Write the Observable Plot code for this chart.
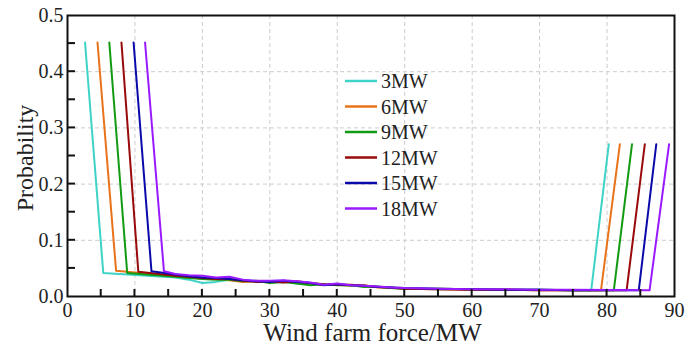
<!DOCTYPE html>
<html>
<head>
<meta charset="utf-8">
<script src="https://cdn.jsdelivr.net/npm/d3@7"></script>
<script src="https://cdn.jsdelivr.net/npm/@observablehq/plot@0.6"></script>
<style>
  html, body { margin: 0; padding: 0; background: #fff; }
  svg { display: block; }
  svg text { font-family: 'Liberation Serif', 'Times New Roman', serif !important; }
</style>
</head>
<body>
<div id="chart"></div>
<script>
// ---- data ----
const seriesNames = ["3MW", "6MW", "9MW", "12MW", "15MW", "18MW"];
const seriesColors = ["#3dd3c6", "#e8731a", "#129a12", "#990a0a", "#0a0aaa", "#9a1aff"];

// left drop: from top point down to bottom point
const topLeftX = [2.6, 4.45, 6.2, 8.0, 9.8, 11.5];
const topLeftY = [0.452, 0.452, 0.452, 0.452, 0.452, 0.452];
const bottomLeftX = [5.3, 7.2, 8.85, 10.5, 12.45, 14.3];
const bottomLeftY = [0.042, 0.046, 0.042, 0.044, 0.045, 0.045];

// middle (noisy low-probability region)
const midX = [16, 18, 20, 22, 24, 26, 28, 30, 32, 34, 36, 38, 40, 42, 44, 46, 48, 50, 55, 60, 65, 70, 75];
const mid3 = [0.034, 0.030, 0.024, 0.026, 0.030, 0.027, 0.026, 0.026, 0.028, 0.023, 0.024, 0.021, 0.022, 0.019, 0.019, 0.017, 0.016, 0.014, 0.013, 0.013, 0.012, 0.012, 0.011];
const mid6 = [0.036, 0.034, 0.032, 0.031, 0.029, 0.026, 0.027, 0.025, 0.027, 0.025, 0.023, 0.021, 0.021, 0.019, 0.020, 0.016, 0.015, 0.014, 0.013, 0.012, 0.012, 0.011, 0.011];
const mid9 = [0.035, 0.033, 0.031, 0.030, 0.030, 0.027, 0.028, 0.024, 0.026, 0.023, 0.020, 0.022, 0.020, 0.020, 0.017, 0.018, 0.015, 0.014, 0.014, 0.013, 0.012, 0.012, 0.011];
const mid12 = [0.037, 0.035, 0.033, 0.031, 0.031, 0.028, 0.026, 0.027, 0.025, 0.027, 0.024, 0.022, 0.021, 0.021, 0.019, 0.017, 0.016, 0.014, 0.013, 0.012, 0.012, 0.011, 0.011];
const mid15 = [0.039, 0.036, 0.034, 0.033, 0.031, 0.029, 0.027, 0.026, 0.028, 0.026, 0.024, 0.020, 0.022, 0.020, 0.019, 0.017, 0.016, 0.015, 0.014, 0.013, 0.012, 0.012, 0.011];
const mid18 = [0.040, 0.038, 0.037, 0.034, 0.035, 0.030, 0.028, 0.028, 0.029, 0.027, 0.025, 0.021, 0.023, 0.020, 0.019, 0.018, 0.016, 0.015, 0.014, 0.013, 0.013, 0.012, 0.012];
const midYs = [mid3, mid6, mid9, mid12, mid15, mid18];

// right rise: from bottom point up to top point
const bottomRightX = [77.65, 79.1, 81.0, 82.9, 84.7, 86.3];
const bottomRightY = [0.011, 0.011, 0.011, 0.011, 0.011, 0.011];
const topRightX = [80.26, 81.9, 83.7, 85.6, 87.3, 89.2];
const topRightY = [0.271, 0.271, 0.271, 0.271, 0.271, 0.271];

const xTicks = [0, 10, 20, 30, 40, 50, 60, 70, 80, 90];
const xMinorTicks = [5, 15, 25, 35, 45, 55, 65, 75, 85];
const yTicks = [0.0, 0.1, 0.2, 0.3, 0.4, 0.5];
const yMinorTicks = [0.05, 0.15, 0.25, 0.35, 0.45];
const xLabel = "Wind farm force/MW";
const yLabel = "Probability";

// ---- build table ----
const rows = [];
seriesNames.forEach((name, i) => {
  let k = 0;
  rows.push({series: name, x: topLeftX[i], y: topLeftY[i], k: k++});
  rows.push({series: name, x: bottomLeftX[i], y: bottomLeftY[i], k: k++});
  midX.forEach((x, j) => rows.push({series: name, x, y: midYs[i][j], k: k++}));
  rows.push({series: name, x: bottomRightX[i], y: bottomRightY[i], k: k++});
  rows.push({series: name, x: topRightX[i], y: topRightY[i], k: k++});
});

const FONT = "'Liberation Serif', 'Times New Roman', serif";

const chart = Plot.plot({
  width: 686,
  height: 347,
  marginLeft: 67,
  marginRight: 12,
  marginTop: 15,
  marginBottom: 51,
  style: {fontFamily: FONT, color: "#222", background: "#fff"},
  x: {domain: [0, 90]},
  y: {domain: [0, 0.5]},
  color: {domain: seriesNames, range: seriesColors},
  marks: [
    Plot.gridX(xTicks.slice(1, -1), {stroke: "#cccccc", strokeOpacity: 1, strokeDasharray: "4,3"}),
    Plot.gridY(yTicks.slice(1, -1), {stroke: "#cccccc", strokeOpacity: 1, strokeDasharray: "4,3"}),
    Plot.line(rows, {x: "x", y: "y", z: "series", stroke: "series", strokeWidth: 2, sort: "k", curve: "linear"}),
    Plot.axisX({ticks: xTicks, tickSize: 0, tickPadding: 6, fontSize: 20, fontFamily: FONT, label: null, tickFormat: d => String(d)}),
    Plot.axisY({ticks: yTicks, tickSize: 0, tickPadding: 4, fontSize: 20, fontFamily: FONT, label: null, tickFormat: d3.format(".1f")}),
    Plot.frame({stroke: "#111", strokeWidth: 2})
  ]
});

document.getElementById("chart").appendChild(chart);

// ---- decorations via scales: inward ticks, axis titles, legend ----
const svg = d3.select(chart);
const sx = chart.scale("x"), sy = chart.scale("y");
const x0 = sx.apply(0), x1 = sx.apply(90);
const y0 = sy.apply(0), y1 = sy.apply(0.5);
const g = svg.append("g").attr("stroke", "#111").attr("stroke-width", 2);
[...xTicks.slice(1, -1), ...xMinorTicks].forEach(v => {
  const px = sx.apply(v);
  g.append("line").attr("x1", px).attr("x2", px).attr("y1", y0).attr("y2", y0 - 7);
});
[...yTicks.slice(1, -1), ...yMinorTicks].forEach(v => {
  const py = sy.apply(v);
  g.append("line").attr("x1", x0).attr("x2", x0 + 8).attr("y1", py).attr("y2", py);
});

svg.append("text")
  .attr("x", (x0 + x1) / 2 + 2).attr("y", 341)
  .attr("text-anchor", "middle")
  .attr("font-family", FONT).attr("font-size", 25).attr("fill", "#222")
  .text(xLabel);
svg.append("text")
  .attr("transform", `translate(33,158) rotate(-90)`)
  .attr("text-anchor", "middle")
  .attr("font-family", FONT).attr("font-size", 24).attr("fill", "#222")
  .text(yLabel);

const leg = svg.append("g");
seriesNames.forEach((name, i) => {
  const cy = 81 + i * 25.5;
  leg.append("line").attr("x1", 345).attr("x2", 377).attr("y1", cy).attr("y2", cy)
    .attr("stroke", seriesColors[i]).attr("stroke-width", 2.5);
  leg.append("text").attr("x", 381).attr("y", cy).attr("dy", "0.35em")
    .attr("text-anchor", "start")
    .attr("font-family", FONT).attr("font-size", 20).attr("fill", "#222")
    .text(name);
});
</script>
</body>
</html>
